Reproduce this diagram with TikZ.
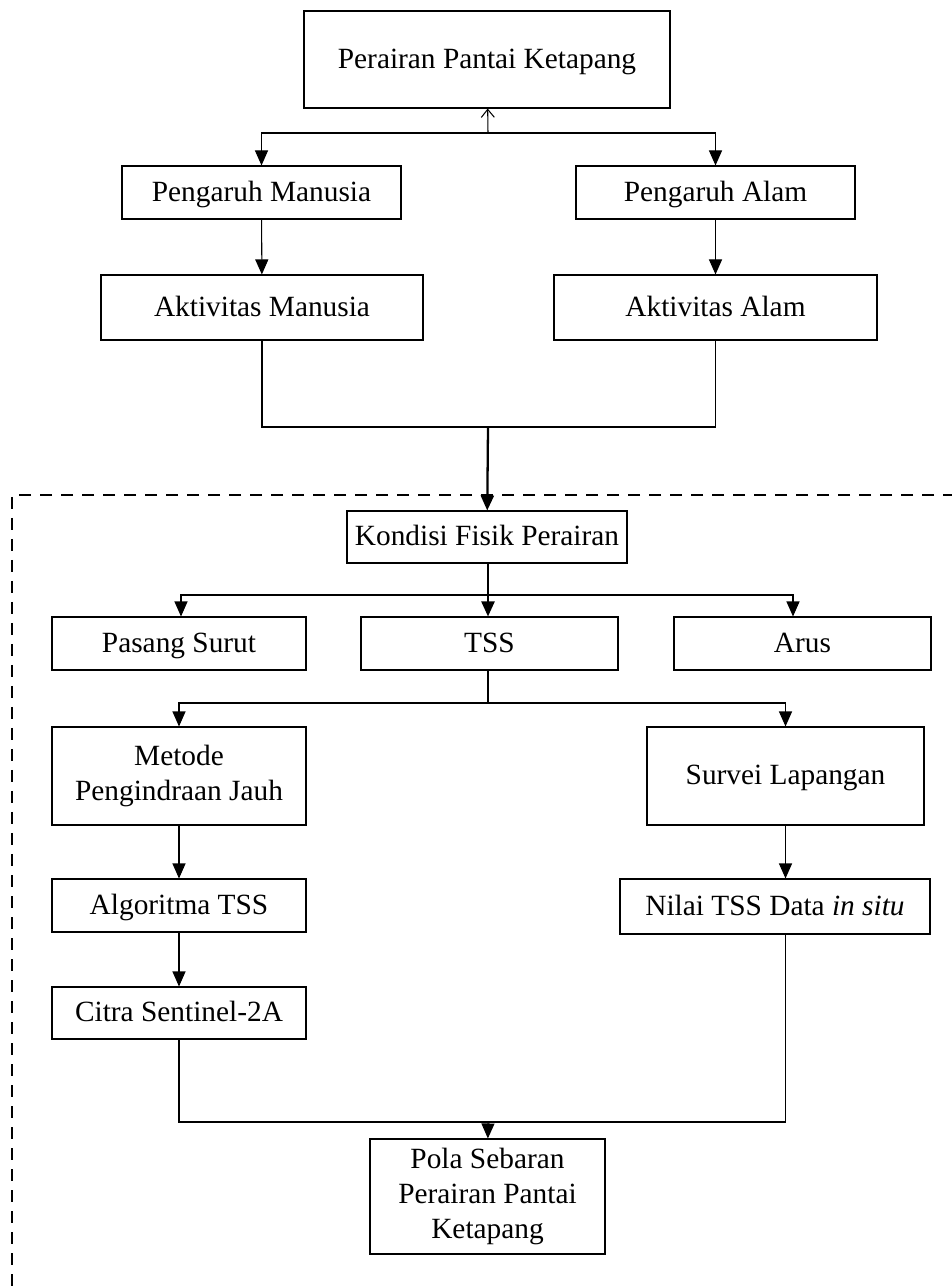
\documentclass[tikz,border=0pt]{standalone}
\usepackage{fontspec}
\setmainfont{Liberation Serif}
\usetikzlibrary{arrows.meta,calc}

\begin{document}
\begin{tikzpicture}[
   box/.style = {draw, line width=0.6pt, inner sep=0pt, align=center, font=\fontsize{16.7}{20}\selectfont},
   onebox/.style = {box, text height=13pt, text depth=3pt},
   line/.style = {line width=0.6pt},
   tip/.style = {line width=0.6pt, -{Triangle[length=0.3cm, width=0.26cm]}},
   bigtip/.style = {line width=1.3pt, -{Triangle[length=0.3cm, width=0.26cm]}},
   area/.style = {line width=0.9pt, dash pattern=on 0.24cm off 0.18cm}
]
\useasboundingbox (0,0) rectangle (19.02,-25.76);

% top part
\node[onebox, minimum width=7.32cm, minimum height=1.94cm] (pantai) at (9.74,-1.19) {Perairan Pantai Ketapang};
\node[onebox, minimum width=5.58cm, minimum height=1.06cm] (pmanusia) at (5.23,-3.85) {Pengaruh Manusia};
\node[onebox, minimum width=5.58cm, minimum height=1.06cm] (palam) at (14.31,-3.85) {Pengaruh Alam};
\node[onebox, minimum width=6.44cm, minimum height=1.30cm] (amanusia) at (5.24,-6.15) {Aktivitas Manusia};
\node[onebox, minimum width=6.46cm, minimum height=1.30cm] (aalam) at (14.31,-6.15) {Aktivitas Alam};

\coordinate (split) at (9.76,-2.66);
\coordinate (merge) at (9.76,-8.54);

\draw[line, -{Straight Barb[length=0.16cm, width=0.26cm]}] (split) -- (pantai);
\draw[tip] (split) -| (pmanusia);
\draw[tip] (split) -| (palam);
\draw[tip] (pmanusia) -- (amanusia);
\draw[tip] (palam) -- (aalam);
\draw[line] (amanusia.south) |- (merge) -| (aalam.south);

% dashed area
\draw[area] (19.10,-9.90) -- (0.24,-9.90) -- (0.24,-25.90);

% kondisi fisik
\node[onebox, minimum width=5.60cm, minimum height=1.04cm] (kondisi) at (9.74,-10.74) {Kondisi Fisik Perairan};
\draw[bigtip] (merge) -- (kondisi);

\node[onebox, minimum width=5.08cm, minimum height=1.06cm] (pasang) at (3.58,-12.87) {Pasang Surut};
\node[onebox, minimum width=5.14cm, minimum height=1.06cm] (tss) at (9.79,-12.87) {TSS};
\node[onebox, minimum width=5.14cm, minimum height=1.06cm] (arus) at (16.05,-12.87) {Arus};

\coordinate (fork) at (9.76,-11.90);
\draw[bigtip] (kondisi.south -| fork) -- (fork |- tss.north);
\draw[tip] (fork) -| ([xshift=0.04cm]pasang.north);
\draw[tip] (fork) -| ([xshift=-0.19cm]arus.north);

% TSS branches
\node[box, minimum width=5.08cm, minimum height=1.96cm] (metode) at (3.58,-15.52) {Metode\\Pengindraan Jauh};
\node[onebox, minimum width=5.54cm, minimum height=1.96cm] (survei) at (15.71,-15.52) {Survei Lapangan};
\node[onebox, minimum width=5.08cm, minimum height=1.06cm] (algo) at (3.58,-18.11) {Algoritma TSS};
\node[onebox, minimum width=6.20cm, minimum height=1.10cm] (nilai) at (15.50,-18.13) {Nilai TSS Data \textit{in situ}};
\node[onebox, minimum width=5.08cm, minimum height=1.04cm] (citra) at (3.58,-20.26) {Citra Sentinel-2A};
\node[box, minimum width=4.70cm, minimum height=2.30cm] (pola) at (9.75,-23.93) {Pola Sebaran\\Perairan Pantai\\Ketapang};

\coordinate (fork2) at (9.76,-14.06);
\coordinate (join) at (9.76,-22.44);

\draw[line] (tss.south -| fork2) -- (fork2);
\draw[tip] (fork2) -| (metode);
\draw[tip] (fork2) -| (survei);
\draw[tip] (metode) -- (algo);
\draw[tip] (survei) -- (survei |- nilai.north);
\draw[tip] (algo) -- (citra);
\draw[line] (citra.south) |- (join);
\draw[line] (nilai.south -| survei) |- (join);
\draw[tip] (join) -- (pola);
\end{tikzpicture}
\end{document}
